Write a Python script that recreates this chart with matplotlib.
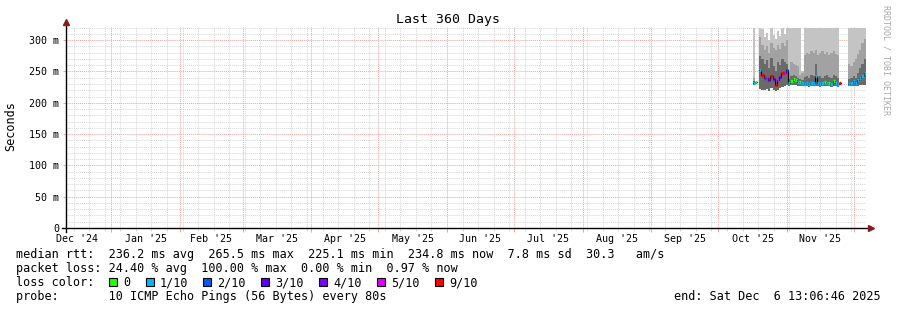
import numpy as np
import matplotlib
matplotlib.use("Agg")
import matplotlib.pyplot as plt
import matplotlib.dates as mdates
import matplotlib.transforms as mtransforms
from matplotlib.patches import Rectangle
from datetime import datetime, timedelta

plt.rcParams['font.family'] = ['DejaVu Sans Mono']

# --- DATA (one sample per day) ---
nan = np.nan
first_sample = datetime(2025, 10, 16, 12)
t_start = datetime(2024, 12, 11, 13, 6, 46)
t_end = datetime(2025, 12, 6, 13, 6, 46)

median_ms = [231, 233, nan, 252, 244, 240, 239, 236, 243, 238,
             229, 237, 241, 248, 248, 252, 232, 235, 238, 236,
             233, 233, 231, 230, 231, 230, 231, 232, 242, 231,
             230, 231, 233, 231, 232, 230, 234, 231, 230, 232,
             nan, nan, nan, 230, 231, 234, 232, 236, 240, 243, 248]
loss_count = [1, 0, 0, 1, 9, 2, 5, 4, 9, 3,
              9, 5, 3, 9, 5, 2, 1, 0, 0, 0,
              1, 0, 1, 1, 1, 1, 1, 1, 1, 1,
              1, 1, 0, 1, 0, 1, 0, 1, 1, 9,
              0, 0, 0, 1, 1, 1, 1, 1, 1, 1, 1]
smoke_lo = [228, 228, nan, 222, 220, 221, 222, 219, 223, 220,
            218, 221, 223, 225, 226, 228, 227, 228, 229, 228,
            227, 227, 226, 226, 227, 225, 226, 227, 226, 226,
            225, 227, 226, 226, 227, 225, 226, 226, 225, 226,
            nan, nan, nan, 226, 226, 227, 226, 227, 228, 228, 229]
smoke_dark = [235, 236, nan, 275, 270, 262, 268, 255, 272, 258,
              250, 265, 260, 270, 265, 262, 238, 242, 244, 242,
              240, 238, 236, 241, 243, 240, 244, 242, 262, 241,
              243, 240, 242, 244, 241, 240, 245, 242, 240, 243,
              nan, nan, nan, 238, 240, 242, 240, 248, 255, 262, 270]
smoke_mid = [240, 238, nan, 305, 292, 285, 290, 280, 295, 288,
             284, 292, 286, 296, 290, 300, 250, 265, 262, 260,
             258, 245, 248, 276, 280, 278, 282, 279, 284, 277,
             280, 283, 278, 281, 276, 280, 282, 278, 276, 274,
             nan, nan, nan, 262, 258, 265, 270, 278, 285, 295, 302]
smoke_top = [320, 320, nan, 320, 318, 305, 312, 300, 320, 308,
             302, 315, 306, 320, 310, 320, 320, 320, 320, 320,
             320, 320, 250, 320, 320, 320, 320, 320, 320, 320,
             320, 320, 320, 320, 320, 320, 320, 320, 320, 320,
             nan, nan, nan, 320, 320, 320, 320, 320, 320, 320, 320]

loss_colors = {0: '#26ff00', 1: '#00b8ff', 2: '#0059ff', 3: '#5e00ff',
               4: '#7e00ff', 5: '#dd00ff', 9: '#ff0000'}
loss_labels = ['0', '1/10', '2/10', '3/10', '4/10', '5/10', '9/10']
loss_keys = [0, 1, 2, 3, 4, 5, 9]

month_labels = ["Dec '24", "Jan '25", "Feb '25", "Mar '25", "Apr '25", "May '25",
                "Jun '25", "Jul '25", "Aug '25", "Sep '25", "Oct '25", "Nov '25"]
month_starts = [datetime(2024, 12, 1)] + [datetime(2025, m, 1) for m in range(1, 12)]

y_ticks = [0, 50, 100, 150, 200, 250, 300]

legend_lines = [
    "median rtt:  236.2 ms avg  265.5 ms max  225.1 ms min  234.8 ms now  7.8 ms sd  30.3   am/s",
    "packet loss: 24.40 % avg  100.00 % max  0.00 % min  0.97 % now",
]
probe_text = "probe:       10 ICMP Echo Pings (56 Bytes) every 80s"
end_text = "end: Sat Dec  6 13:06:46 2025"

# --- FIGURE ---
W, H = 897, 310
fig = plt.figure(figsize=(W / 100, H / 100), dpi=100)
fig.patch.set_facecolor('white')

def fx(px):
    return px / W

def fy(py):
    return 1 - py / H

ax = fig.add_axes([fx(66), fy(228), fx(866) - fx(66), fy(27) - fy(228)])
ax.set_facecolor('white')
for s in ax.spines.values():
    s.set_visible(False)

n = len(median_ms)
edges = [first_sample + timedelta(days=i) for i in range(n + 1)]

def stepify(a):
    a = np.asarray(a, dtype=float)
    return np.append(a, a[-1])

# smoke bands
ax.fill_between(edges, stepify(smoke_lo), stepify(smoke_top), step='post',
                color='#c4c4c4', lw=0, zorder=2)
ax.fill_between(edges, stepify(smoke_lo), stepify(smoke_mid), step='post',
                color='#a2a2a2', lw=0, zorder=2)
ax.fill_between(edges, stepify(smoke_lo), stepify(smoke_dark), step='post',
                color='#6a6a6a', lw=0, zorder=2)

# median line coloured by loss
ax.step(edges, stepify(median_ms), where='post', color='black', lw=0.8, zorder=3)
for i in range(n):
    if not np.isnan(median_ms[i]):
        ax.hlines(median_ms[i], edges[i], edges[i + 1],
                  color=loss_colors[loss_count[i]], lw=2.4, zorder=4)

ax.set_xlim(t_start, t_end)
ax.set_ylim(0, 321)

# grid
ax.xaxis.set_major_locator(mdates.MonthLocator())
ax.xaxis.set_minor_locator(mdates.WeekdayLocator(byweekday=mdates.SU))
ax.xaxis.set_major_formatter(plt.NullFormatter())
ax.yaxis.set_major_locator(plt.FixedLocator(y_ticks))
ax.yaxis.set_minor_locator(plt.MultipleLocator(10))
ax.set_yticklabels([("%d m" % v) if v else "0" for v in y_ticks])
ax.grid(which='minor', color='#d6d6d6', ls=(0, (1, 1)), lw=0.7, zorder=1)
ax.grid(which='major', color='#f4a0a0', ls=(0, (1, 1)), lw=0.7, zorder=1)
ax.set_axisbelow(True)
ax.tick_params(axis='x', which='major', length=3, color='#f4a0a0', width=0.7)
ax.tick_params(axis='x', which='minor', length=2, color='#d6d6d6', width=0.7)
ax.tick_params(axis='y', which='major', length=2.5, color='#f4a0a0', width=0.7,
               pad=2.5, labelsize=7.2)
ax.tick_params(axis='y', which='minor', length=0)

# axis lines with arrows
ax.plot([-0.005, 1.004], [0, 0], transform=ax.transAxes, color='black',
        lw=1.0, clip_on=False, zorder=5)
ax.plot([0, 0], [-0.02, 1.02], transform=ax.transAxes, color='black',
        lw=1.0, clip_on=False, zorder=5)
ax.plot([1.006], [0], transform=ax.transAxes, marker='>', ms=4, color='#8b1a1a',
        clip_on=False, zorder=6)
ax.plot([0], [1.025], transform=ax.transAxes, marker='^', ms=4, color='#8b1a1a',
        clip_on=False, zorder=6)

# month labels centred in each month
lab_tr = mtransforms.blended_transform_factory(ax.transData, fig.transFigure)
for lab, ms in zip(month_labels, month_starts):
    nxt = datetime(ms.year + (ms.month == 12), ms.month % 12 + 1, 1)
    mid = ms + (nxt - ms) / 2
    ax.text(mdates.date2num(mid), fy(241.5), lab, fontsize=7.2, ha='center',
            va='baseline', transform=lab_tr, clip_on=False)

# titles
fig.text(fx(448), fy(23), "Last 360 Days", fontsize=9.5, ha='center', va='baseline')
fig.text(fx(11), fy(126), "Seconds", fontsize=8.5, rotation=90, ha='center', va='center')
fig.text(fx(886), fy(60), "RRDTOOL / TOBI OETIKER", fontsize=6, rotation=270,
         ha='center', va='center', color='#aaaaaa')

# legend
for k, line in enumerate(legend_lines):
    fig.text(fx(16), fy(258 + 14 * k), line, fontsize=8.5, va='baseline')
fig.text(fx(16), fy(286), "loss color:", fontsize=8.5, va='baseline')
box_x = [109, 146, 203, 261, 319, 377, 435]
for bx, key, lab in zip(box_x, loss_keys, loss_labels):
    fig.patches.append(Rectangle((fx(bx), fy(286)), fx(8), 8 / H,
                                 transform=fig.transFigure, facecolor=loss_colors[key],
                                 edgecolor='black', lw=0.8))
    fig.text(fx(bx + 14), fy(286), lab, fontsize=8.5, va='baseline')
fig.text(fx(16), fy(300), probe_text, fontsize=8.5, va='baseline')
fig.text(fx(881), fy(300), end_text, fontsize=8.5, va='baseline', ha='right')

fig.savefig("out.png", dpi=100, facecolor='white')
